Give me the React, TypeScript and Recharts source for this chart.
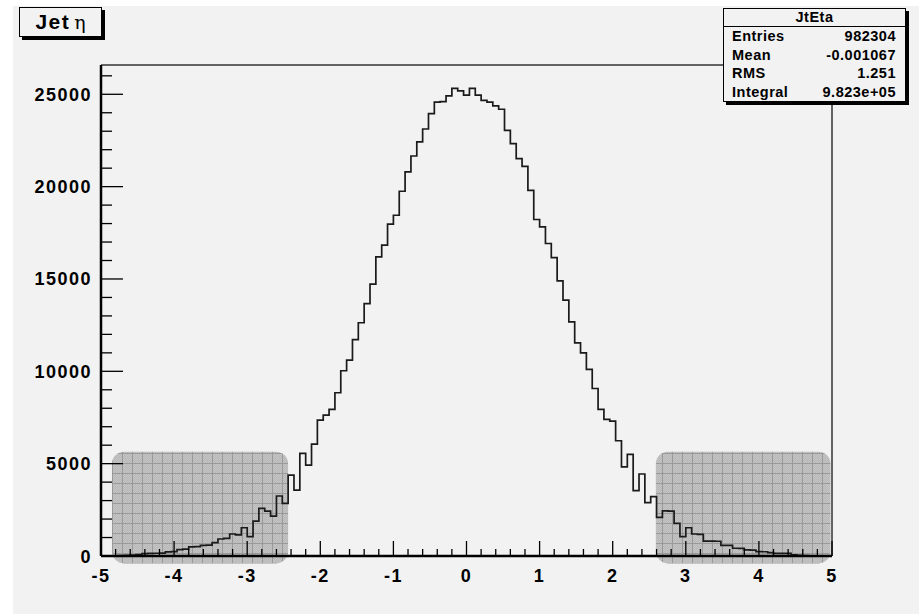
import React from 'react';
import {
  LineChart,
  Line,
  XAxis,
  YAxis,
  ReferenceArea,
  ReferenceLine,
} from 'recharts';

// JtEta histogram, 125 bins from -5 to 5 (counts)
const binCounts = [
  0, 0, 0, 20, 30, 50, 80, 130, 140, 150,
  160, 220, 240, 350, 370, 490, 510, 570, 590, 720,
  920, 950, 1190, 1140, 1530, 1050, 1890, 2580, 2430, 2160,
  3250, 2850, 4380, 3570, 5560, 4920, 6060, 7360, 7630, 7940,
  8840, 10030, 10610, 11720, 12630, 13670, 14720, 16200, 16830, 17970,
  18450, 19750, 20800, 21660, 22420, 23120, 23950, 24580, 24600, 24910,
  25320, 25180, 24950, 25320, 24950, 24670, 24580, 24370, 24190, 23050,
  22330, 21520, 21100, 19800, 18220, 17820, 16920, 16160, 14900, 13850,
  12680, 11540, 11000, 10100, 9070, 7940, 7400, 7300, 6240, 4830,
  5500, 3540, 4440, 2890, 3210, 2090, 2440, 2430, 1770, 1050,
  1530, 1190, 1170, 810, 810, 800, 580, 570, 420, 410,
  330, 320, 240, 230, 180, 145, 140, 140, 60, 40,
  20, 0, 0, 0, 0,
];

const xLow = -5;
const xHigh = 5;

const xMajorTicks = [-5, -4, -3, -2, -1, 0, 1, 2, 3, 4, 5];
const yMajorTicks = [0, 5000, 10000, 15000, 20000, 25000];

const statsTitle = 'JtEta';
const statsRows = [
  ['Entries', '982304'],
  ['Mean', '-0.001067'],
  ['RMS', '1.251'],
  ['Integral', '9.823e+05'],
];

// grey shaded boxes over the forward regions (data coordinates)
const shadedRegions = [
  { x1: -4.85, x2: -2.44, y1: -400, y2: 5650 },
  { x1: 2.59, x2: 4.98, y1: -400, y2: 5650 },
];

const binWidth = (xHigh - xLow) / binCounts.length;
const histData = [
  ...binCounts.map((n, i) => ({ x: xLow + i * binWidth, n })),
  { x: xHigh, n: binCounts[binCounts.length - 1] },
];
const yMax = Math.max(...binCounts) * 1.05;

// minor ticks: 0.2 on x, 1000 on y
const xTicks: number[] = [];
for (let i = 0; i <= 50; i++) xTicks.push(Math.round((xLow + i * 0.2) * 10) / 10);
const yTicks: number[] = [];
for (let v = 0; v <= yMax; v += 1000) yTicks.push(v);

const PLOT_LEFT = 101;
const PLOT_BOTTOM = 556;
const FONT = '"Liberation Sans", Arial, Helvetica, sans-serif';

const XTick = (props: any) => {
  const { x, payload } = props;
  const v = payload.value;
  const major = xMajorTicks.includes(v);
  return (
    <g>
      <line x1={x} x2={x} y1={PLOT_BOTTOM} y2={PLOT_BOTTOM - (major ? 15 : 7)} stroke="#000" strokeWidth={1.3} />
      {major && (
        <text x={x} y={PLOT_BOTTOM + 26} textAnchor="middle" fontFamily={FONT} fontWeight="bold"
          fontSize={18} letterSpacing={1.5} fill="#000">
          {v}
        </text>
      )}
    </g>
  );
};

const YTick = (props: any) => {
  const { y, payload } = props;
  const v = payload.value;
  const major = yMajorTicks.includes(v);
  return (
    <g>
      <line x1={PLOT_LEFT} x2={PLOT_LEFT + (major ? 22 : 11)} y1={y} y2={y} stroke="#000" strokeWidth={1.3} />
      {major && (
        <text x={92} y={y + 6.5} textAnchor="end" fontFamily={FONT} fontWeight="bold"
          fontSize={18} letterSpacing={1.5} fill="#000">
          {v}
        </text>
      )}
    </g>
  );
};

const ShadedBox = (props: any) => {
  const { x, y, width, height } = props;
  return (
    <g>
      <defs>
        <pattern id="dots" patternUnits="userSpaceOnUse" width={2} height={2}>
          <rect width={2} height={2} fill="#a2a2a2" />
          <rect x={0} y={0} width={1} height={1} fill="#8e8e8e" />
          <rect x={1} y={1} width={1} height={1} fill="#8e8e8e" />
        </pattern>
        <pattern id="hatch" patternUnits="userSpaceOnUse" x={2} y={3} width={10} height={10}>
          <rect width={10} height={10} fill="url(#dots)" />
          <rect x={0} y={0} width={10} height={1} fill="#5a5a5a" />
          <rect x={0} y={0} width={1} height={10} fill="#5a5a5a" />
        </pattern>
      </defs>
      <rect x={x} y={y} width={width} height={height} rx={12} ry={12} fill="url(#hatch)" opacity={0.58} />
    </g>
  );
};

const App: React.FC = () => {
  return (
    <div style={{ position: 'absolute', left: 0, top: 0, width: 923, height: 614, background: '#fff' }}>
      {/* ROOT canvas background */}
      <div style={{ position: 'absolute', left: 13, top: 6, width: 906, height: 608, background: '#f2f2f2' }} />
      <div style={{ position: 'absolute', left: 0, top: 0 }}>
        <LineChart
          width={923}
          height={614}
          data={histData}
          margin={{ top: 65, right: 91, bottom: 28, left: 41 }}
        >
          <XAxis
            dataKey="x"
            type="number"
            domain={[xLow, xHigh]}
            ticks={xTicks}
            interval={0}
            tick={<XTick />}
            tickLine={false}
            axisLine={{ stroke: '#000', strokeWidth: 2.5 }}
            height={30}
          />
          <YAxis
            type="number"
            domain={[0, yMax]}
            ticks={yTicks}
            interval={0}
            tick={<YTick />}
            tickLine={false}
            axisLine={{ stroke: '#000', strokeWidth: 2.5 }}
            width={60}
          />
          <ReferenceLine y={yMax} stroke="#333" strokeWidth={1.5} />
          <ReferenceLine x={xHigh} stroke="#333" strokeWidth={1.5} />
          <Line
            type="stepAfter"
            dataKey="n"
            stroke="#1a1a1a"
            strokeWidth={1.7}
            dot={false}
            activeDot={false}
            isAnimationActive={false}
          />
          {shadedRegions.map((r, i) => (
            <ReferenceArea
              key={i}
              x1={r.x1}
              x2={r.x2}
              y1={r.y1}
              y2={r.y2}
              ifOverflow="visible"
              shape={<ShadedBox />}
            />
          ))}
        </LineChart>
      </div>

      {/* title box */}
      <div
        style={{
          position: 'absolute', left: 19, top: 7, width: 81, height: 28,
          border: '1px solid #000', background: '#f2f2f2', boxShadow: '3px 3px 0 #000',
          display: 'flex', alignItems: 'center', justifyContent: 'center',
        }}
      >
        <span style={{ fontFamily: FONT, fontWeight: 'bold', fontSize: 21, letterSpacing: 1.5 }}>Jet</span>
        <span style={{ fontFamily: '"DejaVu Serif", "Liberation Serif", serif', fontSize: 19, marginLeft: 4 }}>η</span>
      </div>

      {/* stats box */}
      <div
        style={{
          position: 'absolute', left: 723, top: 8, width: 181, height: 92,
          border: '1px solid #000', background: '#f2f2f2', boxShadow: '3px 3px 0 #000',
          fontFamily: FONT, fontWeight: 'bold', fontSize: 14.5, letterSpacing: 0.5, color: '#000',
        }}
      >
        <div style={{ height: 17, lineHeight: '17px', textAlign: 'center', borderBottom: '1px solid #000' }}>
          {statsTitle}
        </div>
        {statsRows.map(([k, v]) => (
          <div
            key={k}
            style={{ display: 'flex', justifyContent: 'space-between', height: 18.5, lineHeight: '18.5px', padding: '0 9px 0 8px' }}
          >
            <span>{k}</span>
            <span>{v}</span>
          </div>
        ))}
      </div>
    </div>
  );
};

export default App;
